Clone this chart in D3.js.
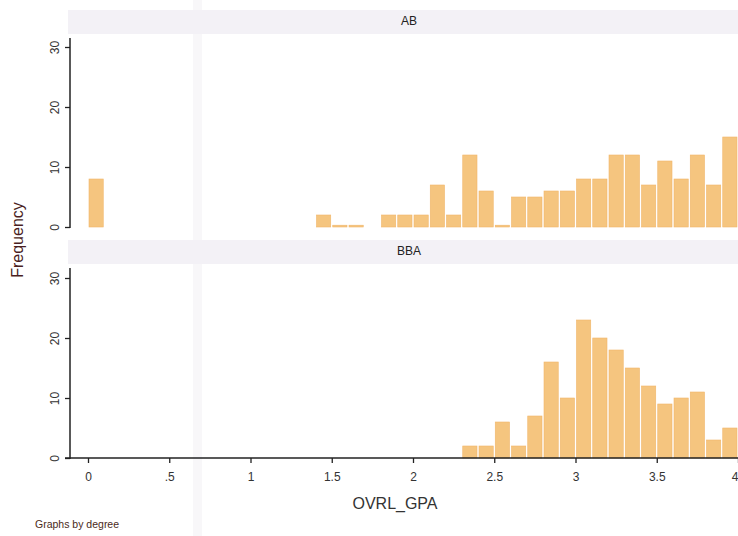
<!DOCTYPE html>
<html>
<head>
<meta charset="utf-8">
<script src="https://cdn.jsdelivr.net/npm/d3@7"></script>
<style>
  body { margin: 0; background: #fff; }
  text { font-family: "Liberation Sans", Arial, sans-serif; }
</style>
</head>
<body>
<script>
var width = 738, height = 536;

// histogram bins (start of each 0.1-wide bin) and frequencies
var binWidth = 0.1;
var abStarts = [0, 1.4, 1.5, 1.6, 1.8, 1.9, 2.0, 2.1, 2.2, 2.3, 2.4, 2.5, 2.6, 2.7, 2.8, 2.9, 3.0, 3.1, 3.2, 3.3, 3.4, 3.5, 3.6, 3.7, 3.8, 3.9];
var abCounts = [8, 2, 0.3, 0.3, 2, 2, 2, 7, 2, 12, 6, 0.3, 5, 5, 6, 6, 8, 8, 12, 12, 7, 11, 8, 12, 7, 15];
var bbaStarts = [2.3, 2.4, 2.5, 2.6, 2.7, 2.8, 2.9, 3.0, 3.1, 3.2, 3.3, 3.4, 3.5, 3.6, 3.7, 3.8, 3.9];
var bbaCounts = [2, 2, 6, 2, 7, 16, 10, 23, 20, 18, 15, 12, 9, 10, 11, 3, 5];

var xTicks = [0, 0.5, 1, 1.5, 2, 2.5, 3, 3.5, 4];
var yTicks = [0, 10, 20, 30];

var svg = d3.select("body")
            .append("svg")
            .attr("width", width)
            .attr("height", height);

// faint scan band
svg.append("rect")
   .attr("x", 193).attr("y", 0)
   .attr("width", 9).attr("height", height)
   .attr("fill", "#f8f7f9");

var x = d3.scaleLinear().domain([0, 4]).range([88, 738]);

var panels = [
  {name: "AB", starts: abStarts, counts: abCounts, y0: 227, y30: 47, strip: 10, axisTop: 38},
  {name: "BBA", starts: bbaStarts, counts: bbaCounts, y0: 458, y30: 278, strip: 240, axisTop: 268}
];

panels.forEach(function(p) {
  var y = d3.scaleLinear().domain([0, 30]).range([p.y0, p.y30]);

  // title strip
  svg.append("rect")
     .attr("x", 68).attr("y", p.strip)
     .attr("width", width - 68).attr("height", 24)
     .attr("fill", "#f3f1f6");

  svg.append("text")
     .attr("x", 409)
     .attr("y", p.strip + 15)
     .attr("text-anchor", "middle")
     .attr("font-size", 12)
     .attr("fill", "#222")
     .text(p.name);

  var bins = p.starts.map(function(s, i) { return {start: s, count: p.counts[i]}; });

  svg.append("g")
     .selectAll("rect")
     .data(bins)
     .enter()
     .append("rect")
     .attr("x", function(d) { return x(d.start) + 1; })
     .attr("width", function(d) { return x(d.start + binWidth) - x(d.start) - 2; })
     .attr("y", function(d) { return y(d.count); })
     .attr("height", function(d) { return y(0) - y(d.count); })
     .attr("fill", "#f5c57f")
     .attr("stroke", "#f0b66a")
     .attr("stroke-width", 0.6);

  // y axis
  var yAxis = d3.axisLeft(y).tickValues(yTicks).tickSize(5).tickFormat(d3.format("d"));
  var ga = svg.append("g")
              .attr("transform", "translate(70,0)")
              .call(yAxis);
  ga.select(".domain").remove();
  ga.append("line")
    .attr("x1", 0).attr("x2", 0)
    .attr("y1", p.axisTop).attr("y2", p.y0 + 1)
    .attr("stroke", "#222").attr("stroke-width", 1.5);
  ga.selectAll(".tick line").attr("stroke", "#222").attr("stroke-width", 1.3);
  ga.selectAll(".tick text")
    .attr("transform", "rotate(-90)")
    .attr("x", 0).attr("dy", "0.35em")
    .attr("y", -15)
    .attr("text-anchor", "middle")
    .attr("font-size", 12)
    .attr("fill", "#333");
});

// x axis on bottom panel
var xAxis = d3.axisBottom(x).tickValues(xTicks).tickSize(5)
              .tickFormat(function(d) { return d === 0.5 ? ".5" : d3.format("")(d); });
var gx = svg.append("g")
            .attr("transform", "translate(0,458)")
            .call(xAxis);
gx.select(".domain").remove();
gx.append("line")
  .attr("x1", 65).attr("x2", width)
  .attr("y1", 0).attr("y2", 0)
  .attr("stroke", "#222").attr("stroke-width", 1.5);
gx.selectAll(".tick line").attr("stroke", "#222").attr("stroke-width", 1.3);
gx.selectAll(".tick text")
  .attr("y", 14)
  .attr("font-size", 12)
  .attr("fill", "#333")
  .attr("text-anchor", function(d) { return d === 4 ? "end" : "middle"; });

// axis titles
svg.append("text")
   .attr("transform", "translate(23,240) rotate(-90)")
   .attr("text-anchor", "middle")
   .attr("font-size", 16)
   .attr("fill", "#4a1e22")
   .text("Frequency");

svg.append("text")
   .attr("x", 395)
   .attr("y", 509)
   .attr("text-anchor", "middle")
   .attr("font-size", 16)
   .attr("fill", "#333")
   .text("OVRL_GPA");

svg.append("text")
   .attr("x", 35)
   .attr("y", 528)
   .attr("font-size", 10.5)
   .attr("fill", "#4a2a20")
   .text("Graphs by degree");
</script>
</body>
</html>
